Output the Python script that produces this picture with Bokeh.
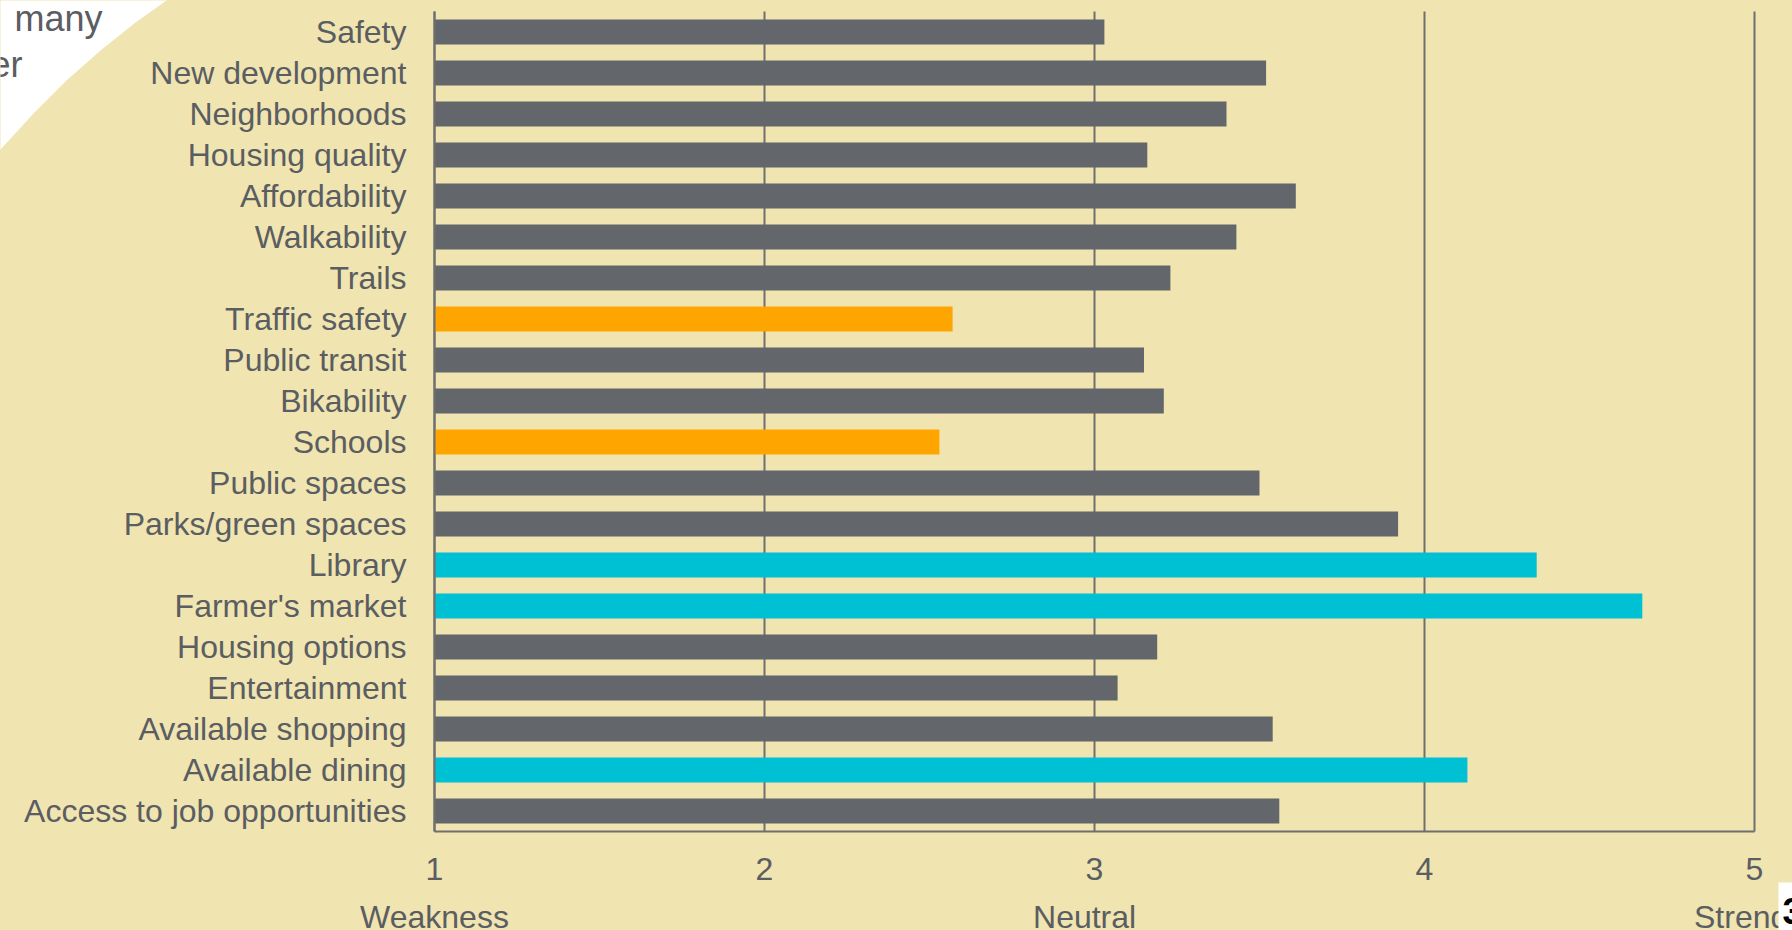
from bokeh.plotting import figure
from bokeh.models import Range1d, FixedTicker, LinearAxis, ColumnDataSource
from bokeh.core.properties import value
from bokeh.transform import factor_cmap
from bokeh.embed import file_html
from bokeh.resources import INLINE

# ---------------- data ----------------
categories = ["Safety", "New development", "Neighborhoods", "Housing quality",
              "Affordability", "Walkability", "Trails", "Traffic safety",
              "Public transit", "Bikability", "Schools", "Public spaces",
              "Parks/green spaces", "Library", "Farmer's market", "Housing options",
              "Entertainment", "Available shopping", "Available dining",
              "Access to job opportunities"]
scores = [3.03, 3.52, 3.40, 3.16, 3.61, 3.43, 3.23, 2.57, 3.15, 3.21,
          2.53, 3.50, 3.92, 4.34, 4.66, 3.19, 3.07, 3.54, 4.13, 3.56]
groups = ["mid", "mid", "mid", "mid", "mid", "mid", "mid", "low", "mid", "mid",
          "low", "mid", "mid", "high", "high", "mid", "mid", "mid", "high", "mid"]
group_names = ["low", "mid", "high"]
tick_values = [1, 2, 3, 4, 5]
scale_labels = ["Weakness", "Neutral", "Strength"]
scale_positions = [1, 2.97, 5]
slide_fragments = ["many", "er"]
slide_number = "3"

# ---------------- style / layout (pixels) ----------------
W, H = 1792, 930
BG = "#F0E4B0"
TEXT = "#5A5D61"
GRID = "#6F6F6F"
FONT = "Liberation Sans"
palette = ["#FFA500", "#63666A", "#00C0D4"]
PX_PER_UNIT = 330.0      # horizontal pixels per score unit
ROW = 41.0               # pixels per category row
LEFT_PX = 434            # pixel position of score 1
TOP_PX = 11              # top edge of first row

n = len(categories)
ypos = [n - 1 - i for i in range(n)]          # first category on top

x_start = 1 - LEFT_PX / PX_PER_UNIT
x_end = x_start + W / PX_PER_UNIT
y_end = (n - 0.5) + TOP_PX / ROW
y_start = y_end - H / ROW


def dx(px):
    return x_start + px / PX_PER_UNIT


def dy(py):
    return y_end - py / ROW


src = ColumnDataSource(dict(y=ypos, score=scores, group=groups))

p = figure(width=W, height=H,
           x_range=Range1d(x_start, x_end), y_range=Range1d(y_start, y_end),
           output_backend="svg", toolbar_location=None,
           x_axis_location=None, y_axis_location=None,
           min_border=0)
p.min_border_left = p.min_border_right = p.min_border_top = p.min_border_bottom = 0
p.background_fill_color = BG
p.border_fill_color = BG
p.outline_line_color = None
p.xgrid.visible = False
p.ygrid.visible = False

# vertical grid lines at the score ticks
p.segment(x0=tick_values, x1=tick_values, y0=-0.5, y1=n - 0.5,
          line_color=GRID, line_width=2)

# bars
p.hbar(y="y", left=1, right="score", height=0.61, source=src,
       fill_color=factor_cmap("group", palette, group_names), line_color=None)

# category axis
ya = LinearAxis(ticker=FixedTicker(ticks=ypos),
                major_label_overrides={yv: c for yv, c in zip(ypos, categories)},
                fixed_location=1, bounds=(-0.5, n - 0.5))
ya.major_label_text_font = FONT
ya.major_label_text_font_size = "32px"
ya.major_label_text_color = TEXT
ya.major_tick_line_color = None
ya.minor_tick_line_color = None
ya.major_tick_out = 0
ya.major_tick_in = 0
ya.major_label_standoff = 28
ya.axis_line_color = GRID
ya.axis_line_width = 2
p.add_layout(ya, "left")

# score axis
xa = LinearAxis(ticker=FixedTicker(ticks=tick_values), fixed_location=-0.5,
                bounds=(tick_values[0], tick_values[-1]))
xa.major_label_text_font = FONT
xa.major_label_text_font_size = "32px"
xa.major_label_text_color = TEXT
xa.major_tick_line_color = None
xa.minor_tick_line_color = None
xa.major_tick_out = 0
xa.major_tick_in = 0
xa.major_label_standoff = 26
xa.axis_line_color = GRID
xa.axis_line_width = 2
p.add_layout(xa, "below")

# scale words under the score axis
p.text(x=scale_positions, y=[dy(916)] * len(scale_positions), text=scale_labels,
       text_align="center", text_baseline="alphabetic",
       text_font=value(FONT), text_font_size="32px", text_color=TEXT)

# white slide corner with cut-off title fragments
corner_px = [(-5, -5), (166, -5), (166, 0), (135, 22), (100, 50), (66, 80), (33, 113), (0, 149), (-5, 153)]
p.patch(x=[dx(a) for a, b in corner_px], y=[dy(b) for a, b in corner_px],
        fill_color="white", line_color=None)
p.text(x=[dx(14)], y=[dy(18)], text=[slide_fragments[0]], text_baseline="alphabetic",
       text_align="left", text_font=value(FONT), text_font_size="36px", text_color=TEXT)
p.text(x=[dx(22)], y=[dy(64)], text=[slide_fragments[1]], text_baseline="alphabetic",
       text_align="right", text_font=value(FONT), text_font_size="36px", text_color=TEXT)

# slide number box (on top of the axis labels)
box = p.quad(left=[dx(1778)], right=[dx(1800)], top=[dy(882)], bottom=[dy(940)],
             fill_color="white", line_color=None)
box.level = "overlay"
num = p.text(x=[dx(1782)], y=[dy(910)], text=[slide_number], text_baseline="alphabetic",
             text_align="left", text_font=value(FONT), text_font_size="36px",
             text_font_style="bold", text_color="black")
num.level = "overlay"

html = file_html(p, INLINE)
html = html.replace("</head>", "<style>html, body { background: %s; }</style></head>" % BG, 1)
open("out.html", "w").write(html)
